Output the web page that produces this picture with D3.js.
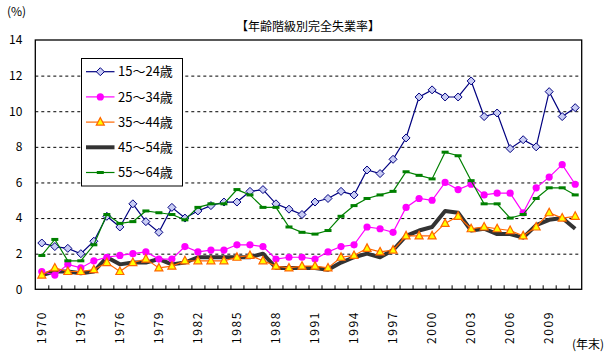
<!DOCTYPE html>
<html><head><meta charset="utf-8">
<script src="https://cdn.jsdelivr.net/npm/d3@7"></script>
<style>
body{margin:0;background:#fff;}
svg{display:block;font-family:"Noto Sans CJK JP","DejaVu Sans",sans-serif;}
</style></head><body>
<svg id="c" width="606" height="359"></svg>
<script>
const years = d3.range(1970, 2012);
const xTickLabels = [1970,1973,1976,1979,1982,1985,1988,1991,1994,1997,2000,2003,2006,2009];
const yTicks = [0,2,4,6,8,10,12,14];
const seriesNames = ["15～24歳","25～34歳","35～44歳","45～54歳","55～64歳"];
const s15_24 = [2.6,2.4,2.3,2.0,2.7,4.1,3.5,4.8,3.8,3.2,4.6,4.0,4.4,4.7,4.9,4.9,5.5,5.6,4.8,4.5,4.2,4.9,5.1,5.5,5.3,6.7,6.5,7.3,8.5,10.8,11.2,10.8,10.8,11.7,9.7,9.9,7.9,8.4,8.0,11.1,9.7,10.2];
const s25_34 = [1.0,0.8,1.4,1.2,1.6,1.8,1.9,2.0,2.1,1.7,1.7,2.4,2.1,2.2,2.2,2.5,2.5,2.4,1.7,1.8,1.8,1.7,2.1,2.4,2.5,3.5,3.4,3.2,4.6,5.1,5.0,6.0,5.6,5.9,5.3,5.4,5.4,4.3,5.7,6.3,7.0,5.9];
const s35_44 = [0.8,1.2,1.0,1.0,1.1,1.5,1.0,1.5,1.7,1.2,1.3,1.6,1.6,1.6,1.6,1.8,1.9,1.6,1.3,1.2,1.3,1.3,1.2,1.8,1.9,2.3,2.1,2.2,3.0,3.0,3.0,3.7,4.1,3.4,3.5,3.4,3.3,3.0,3.5,4.3,4.0,4.1];
const s45_54 = [0.8,1.0,1.0,0.9,1.0,1.8,1.4,1.5,1.5,1.7,1.4,1.5,1.8,1.8,1.8,1.8,1.8,2.0,1.2,1.2,1.2,1.2,1.1,1.5,1.8,2.0,1.8,2.2,3.0,3.3,3.5,4.4,4.3,3.3,3.4,3.1,3.1,2.9,3.6,3.9,4.0,3.4];
const s55_64 = [1.9,2.8,1.6,1.6,2.5,4.2,3.7,3.8,4.4,4.3,4.2,3.9,4.6,4.8,4.8,5.6,5.3,4.6,4.6,3.5,3.2,3.1,3.3,4.1,4.7,5.1,5.3,5.5,6.6,6.4,6.2,7.7,7.5,6.1,4.8,4.8,4.0,4.2,5.1,5.7,5.7,5.3];

const svg = d3.select("#c");
const L = 35.3, R = 581.7, T = 40, B = 289.3;
const x = d3.scaleBand().domain(years).range([L, R]).padding(0);
const xb = d3.scaleLinear().domain([0, years.length]).range([L, R]);
const y = d3.scaleLinear().domain([0, 14]).range([B, T]);

// gridlines
const grid = svg.append("g").attr("transform", `translate(${L},0)`)
  .call(d3.axisLeft(y).tickValues([2,4,6,8,10,12]).tickSize(-(R-L)).tickFormat(""));
grid.select(".domain").remove();
grid.selectAll("line").attr("stroke", "#000").attr("stroke-dasharray", "3,3").attr("stroke-width", 1);

// y labels
const yl = svg.append("g").attr("transform", `translate(${L},0)`)
  .call(d3.axisLeft(y).tickValues(yTicks).tickSize(0).tickPadding(13).tickFormat(d3.format("d")));
yl.select(".domain").remove();
yl.selectAll("text").attr("font-size", 12).attr("fill", "#000").attr("font-family", "Noto Sans CJK JP");

// x ticks between categories
const xt = svg.append("g").attr("transform", `translate(0,${B})`)
  .call(d3.axisBottom(xb).tickValues(d3.range(1, years.length)).tickSize(-4).tickFormat(""));
xt.select(".domain").remove();
xt.selectAll("line").attr("stroke", "#000");

// x labels (rotated, reading bottom to top)
svg.append("g").selectAll("text").data(xTickLabels).join("text")
  .attr("transform", d => `translate(${x(d) + x.bandwidth()/2 + 4},344) rotate(-90)`)
  .attr("text-anchor", "start")
  .attr("font-size", 12).attr("fill", "#000").attr("letter-spacing", "1.6px")
  .text(d => d);

// plot border
svg.append("rect").attr("x", L).attr("y", T).attr("width", R-L).attr("height", B-T)
  .attr("fill", "none").attr("stroke", "#000").attr("stroke-width", 1.3);

const line = d3.line().x((d,i) => x(years[i]) + x.bandwidth()/2).y(d => y(d));
const cx = (i) => x(years[i]) + x.bandwidth()/2;

// 45-54 thick line
svg.append("path").datum(s45_54).attr("d", line).attr("fill", "none")
  .attr("stroke", "#333").attr("stroke-width", 4).attr("stroke-linejoin", "round");

// 15-24
svg.append("path").datum(s15_24).attr("d", line).attr("fill", "none").attr("stroke", "#000080").attr("stroke-width", 1.2);
const diamond = (cx0, cy0, r) => `M${cx0},${cy0-r}L${cx0+r},${cy0}L${cx0},${cy0+r}L${cx0-r},${cy0}Z`;
svg.append("g").selectAll("path").data(s15_24).join("path")
  .attr("d", (d,i) => diamond(cx(i), y(d), 4))
  .attr("fill", "#c8ccf4").attr("stroke", "#000080").attr("stroke-width", 1);

// 25-34
svg.append("path").datum(s25_34).attr("d", line).attr("fill", "none").attr("stroke", "#ff00ff").attr("stroke-width", 1.2);
svg.append("g").selectAll("circle").data(s25_34).join("circle")
  .attr("cx", (d,i) => cx(i)).attr("cy", d => y(d)).attr("r", 3.6).attr("fill", "#ff00ff");

// 35-44
svg.append("path").datum(s35_44).attr("d", line).attr("fill", "none").attr("stroke", "#ff6600").attr("stroke-width", 1.2);
const tri = (cx0, cy0) => `M${cx0},${cy0-4.5}L${cx0+4},${cy0+3}L${cx0-4},${cy0+3}Z`;
svg.append("g").selectAll("path").data(s35_44).join("path")
  .attr("d", (d,i) => tri(cx(i), y(d)))
  .attr("fill", "#ffff00").attr("stroke", "#ff6600").attr("stroke-width", 1.2);

// 55-64
svg.append("path").datum(s55_64).attr("d", line).attr("fill", "none").attr("stroke", "#008000").attr("stroke-width", 1.2);
svg.append("g").selectAll("rect").data(s55_64).join("rect")
  .attr("x", (d,i) => cx(i) - 3.5).attr("y", d => y(d) - 1.5).attr("width", 7).attr("height", 3).attr("fill", "#008000");

// legend
const lg = svg.append("g");
lg.append("rect").attr("x", 81.5).attr("y", 58.5).attr("width", 101).attr("height", 127.5)
  .attr("fill", "#fff").attr("stroke", "#000").attr("stroke-width", 1);
const rowsY = [71.7, 96.9, 122.1, 147.3, 172.5];
const colors = ["#000080", "#ff00ff", "#ff6600", "#333", "#008000"];
seriesNames.forEach((n, i) => {
  const yy = rowsY[i];
  lg.append("line").attr("x1", 86).attr("x2", 114.5).attr("y1", yy).attr("y2", yy)
    .attr("stroke", colors[i]).attr("stroke-width", i === 3 ? 4 : 1.2);
  if (i === 0) lg.append("path").attr("d", diamond(100.3, yy, 4)).attr("fill", "#c8ccf4").attr("stroke", "#000080");
  if (i === 1) lg.append("circle").attr("cx", 100.3).attr("cy", yy).attr("r", 3.6).attr("fill", "#ff00ff");
  if (i === 2) lg.append("path").attr("d", tri(100.3, yy)).attr("fill", "#ffff00").attr("stroke", "#ff6600").attr("stroke-width", 1.2);
  if (i === 4) lg.append("rect").attr("x", 96.8).attr("y", yy - 1.5).attr("width", 7).attr("height", 3).attr("fill", "#008000");
  lg.append("text").attr("x", 118).attr("y", yy).attr("dy", "0.36em")
    .attr("font-size", 13).attr("fill", "#000").text(n);
});

// title and axis units
svg.append("text").attr("x", 308).attr("y", 27).attr("dy", "0.36em").attr("text-anchor", "middle")
  .attr("font-size", 12).attr("fill", "#000").text("【年齢階級別完全失業率】");
svg.append("text").attr("x", 7).attr("y", 12).attr("dy", "0.36em")
  .attr("font-size", 12).attr("fill", "#000").text("(%)");
svg.append("text").attr("x", 604).attr("y", 345).attr("dy", "0.36em").attr("text-anchor", "end")
  .attr("font-size", 12).attr("fill", "#000").text("(年末)");
</script>
</body></html>
